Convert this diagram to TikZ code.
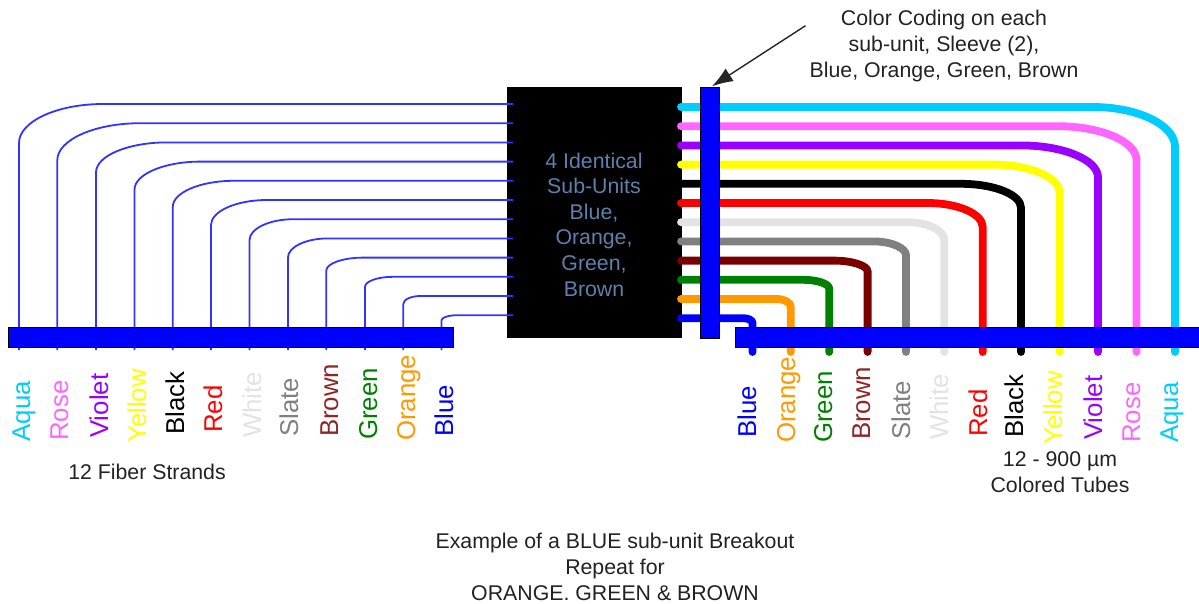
\documentclass[tikz,border=0pt]{standalone}
\usepackage{fontspec}
\setmainfont{Liberation Sans}
\usetikzlibrary{calc,arrows.meta}
\definecolor{cAqua}{HTML}{00CCFF}
\definecolor{cRose}{HTML}{FF66FF}
\definecolor{cViolet}{HTML}{9900FF}
\definecolor{cYellow}{HTML}{FFFF00}
\definecolor{cBlack}{HTML}{000000}
\definecolor{cRed}{HTML}{FF0000}
\definecolor{cWhite}{HTML}{E3E3E3}
\definecolor{cSlate}{HTML}{808080}
\definecolor{cBrown}{HTML}{7A0000}
\definecolor{cGreen}{HTML}{008000}
\definecolor{cOrange}{HTML}{FF9900}
\definecolor{cBlue}{HTML}{0000FF}
\definecolor{cSub}{HTML}{6080AC}
\definecolor{cInk}{HTML}{222222}
\tikzset{
  x=1pt,y=-1pt,
  fibre/.style={draw=cBlue!80,line width=1.8pt},
  tube/.style={line width=7.8pt,line cap=round},
  barbox/.style={draw=black,line width=0.9pt,fill=cBlue,inner sep=0pt,anchor=north west},
  blockbox/.style={fill=black,inner sep=0pt,anchor=north west},
  vlabel/.style={rotate=90,anchor=base west,inner sep=0pt,font=\fontsize{25.8}{28}\selectfont},
  htext/.style={inner sep=0pt,align=center,anchor=base,text=cInk,font=\fontsize{21.3}{25.6}\selectfont},
}
\begin{document}
\begin{tikzpicture}
\fill[white] (0,0) rectangle (1199,603);
\useasboundingbox (0,0) rectangle (1199,603);
% sub-unit block
\node[blockbox,minimum width=175pt,minimum height=251pt] (block) at (507,87) {};
\node[htext,text=cSub] (subunits) at (594,296) {4 Identical\\Sub-Units\\Blue,\\Orange,\\Green,\\Brown};
% bare fibres on the left
\foreach \i/\xx/\rx/\ry in {0/19/84/39,1/57.3/83/37,2/96/71/30,3/134.5/66/28,4/172.8/61/26,5/211/56/25,6/249.5/44/21,7/288/40/19,8/326.3/37/13,9/365/28/10,10/403.3/17/8,11/441.5/16/5}{
  \pgfmathsetmacro{\yy}{104+19.2*\i}
  \coordinate (LE\i) at (513,\yy);
  \coordinate (LB\i) at (\xx,350);
  \coordinate (LC\i) at (\xx,\yy);
  \draw[fibre] (LB\i) -- ($(LC\i)+(0,\ry)$) .. controls ($(LC\i)+(0,0.45*\ry)$) and ($(LC\i)+(0.45*\rx,0)$) .. ($(LC\i)+(\rx,0)$) -- (LE\i);
}
% coloured tubes on the right
\foreach \i/\xx/\rx/\ry/\col in {0/1175/82/40/cAqua,1/1136.5/79/34/cRose,2/1098/77/32/cViolet,3/1059.5/66/28/cYellow,4/1021/60/24/cBlack,5/982.7/55/24/cRed,6/944.3/37/18/cWhite,7/906/33/14/cSlate,8/867.6/34/11/cBrown,9/829.2/26/9/cGreen,10/790.8/14/8/cOrange,11/752.5/9/5/cBlue}{
  \pgfmathsetmacro{\yy}{107+19.2*\i}
  \coordinate (RS\i) at (681,\yy);
  \coordinate (RE\i) at (\xx,352);
  \coordinate (RC\i) at (\xx,\yy);
  \draw[tube,draw=\col] (RS\i) -- ($(RC\i)+(-\rx,0)$) .. controls ($(RC\i)+(-0.45*\rx,0)$) and ($(RC\i)+(0,0.45*\ry)$) .. ($(RC\i)+(0,\ry)$) -- (RE\i);
}
% sleeve and bars
\node[barbox,minimum width=19pt,minimum height=250.5pt] (sleeve) at (700,87.3) {};
\node[barbox,minimum width=445pt,minimum height=20pt] (barL) at (8.3,327.3) {};
\node[barbox,minimum width=470pt,minimum height=20pt] (barR) at (735,327.3) {};
% left labels
\node[vlabel,text=cAqua] (la) at (30,441.5) {Aqua};
\node[vlabel,text=cRose] (lb) at (68,441) {Rose};
\node[vlabel,text=cViolet] (lc) at (108,438) {Violet};
\node[vlabel,text=cYellow] (ld) at (146,443) {Yellow};
\node[vlabel,text=cBlack] (le) at (184,435) {Black};
\node[vlabel,text=cRed] (lf) at (222,433) {Red};
\node[vlabel,text=cWhite] (lg) at (261,438) {White};
\node[vlabel,text=cSlate] (lh) at (298,437) {Slate};
\node[vlabel,text=cBrown!85] (li) at (338,437) {Brown};
\node[vlabel,text=cGreen] (lj) at (377,440) {Green};
\node[vlabel,text=cOrange] (lk) at (415,441) {Orange};
\node[vlabel,text=cBlue] (ll) at (453,437) {Blue};
% right labels
\node[vlabel,text=cBlue] (ra) at (756,438) {Blue};
\node[vlabel,text=cOrange] (rb) at (795,443) {Orange};
\node[vlabel,text=cGreen] (rc) at (832,443) {Green};
\node[vlabel,text=cBrown!85] (rd) at (870,440) {Brown};
\node[vlabel,text=cSlate] (re) at (910,440) {Slate};
\node[vlabel,text=cWhite] (rf) at (948,440) {White};
\node[vlabel,text=cRed] (rg) at (987,437) {Red};
\node[vlabel,text=cBlack] (rh) at (1023,438) {Black};
\node[vlabel,text=cYellow] (ri) at (1062,445) {Yellow};
\node[vlabel,text=cViolet] (rj) at (1102,440) {Violet};
\node[vlabel,text=cRose] (rk) at (1140,443) {Rose};
\node[vlabel,text=cAqua] (rl) at (1178,443) {Aqua};
% captions
\node[htext] (strands) at (147,479) {12 Fiber Strands};
\node[htext] (tubes) at (1060,492) {12 - 900 µm\\Colored Tubes};
\node[htext] (coding) at (944,77) {Color Coding on each\\sub-unit, Sleeve (2),\\Blue, Orange, Green, Brown};
\node[htext] (example) at (615,600) {Example of a BLUE sub-unit Breakout\\Repeat for\\ORANGE. GREEN \& BROWN};
% pointer
\coordinate (pointerstart) at (805.5,25.7);
\draw[-{Latex[length=21pt,width=15pt]},line width=1.4pt,draw=black!85] (pointerstart) -- ($(sleeve.north)+(2,-1)$);
\end{tikzpicture}
\end{document}
